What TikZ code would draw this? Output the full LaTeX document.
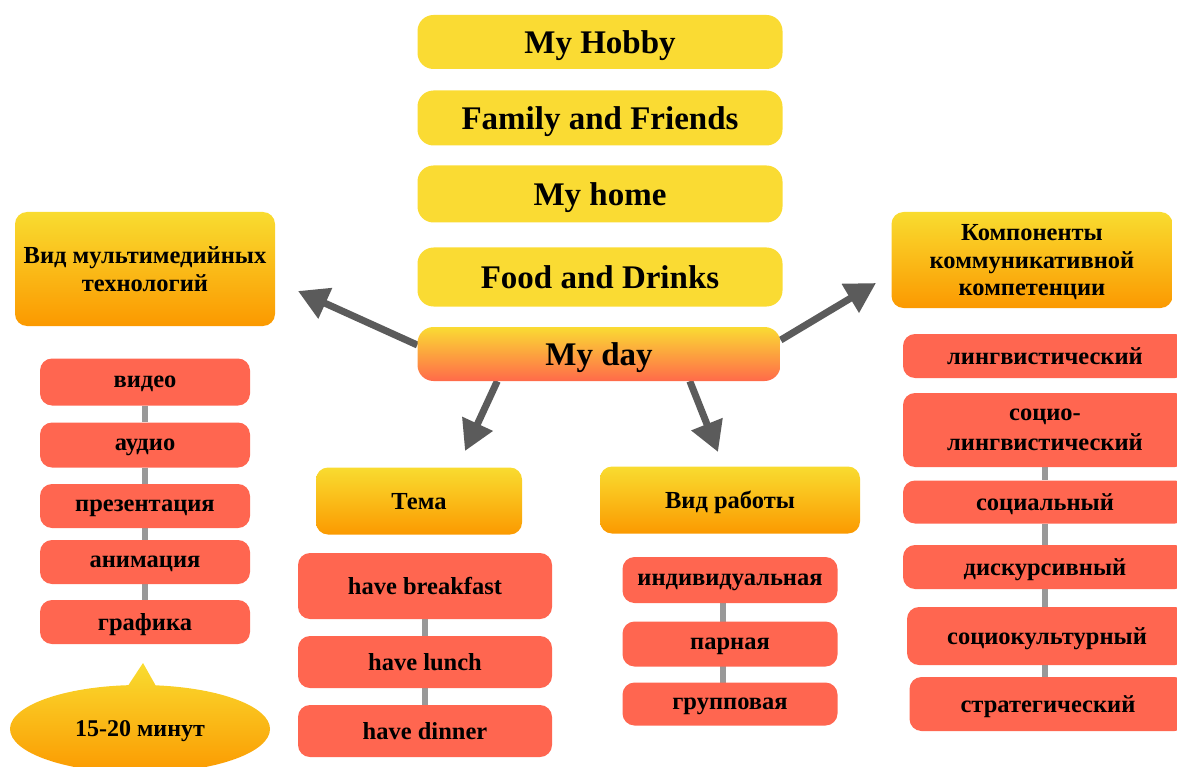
\documentclass[tikz,border=0pt]{standalone}
\usepackage{fontspec}
\setmainfont{Liberation Serif}
\usetikzlibrary{arrows.meta,calc,shapes.callouts}
\pgfdeclarelayer{bg}
\pgfsetlayers{bg,main}
\definecolor{topicyellow}{HTML}{FADB33}
\definecolor{headtop}{HTML}{F9DC30}
\definecolor{headbot}{HTML}{FB9900}
\definecolor{itemred}{HTML}{FF6650}
\definecolor{daybot}{HTML}{FF6A4A}
\definecolor{arrowgrey}{HTML}{5B5B5B}
\definecolor{linkgrey}{HTML}{999999}
\tikzset{
  topic/.style={rounded corners=16pt, fill=topicyellow, minimum width=365pt,
    inner sep=0pt, text depth=0pt, font=\fontsize{33}{38}\selectfont\bfseries},
  headbox/.style={rounded corners=12pt, top color=headtop, bottom color=headbot,
    inner sep=0pt, text depth=0pt, align=center, font=\fontsize{24.5}{27.5}\selectfont\bfseries},
  itembox/.style={rounded corners=12pt, fill=itemred, inner sep=0pt, text depth=0pt,
    align=center, font=\fontsize{24.5}{30}\selectfont\bfseries},
  link/.style={line width=6pt, draw=linkgrey},
  bigarrow/.style={line width=7pt, draw=arrowgrey, fill=arrowgrey,
    -{Triangle[length=30pt,width=32pt]}}
}
\begin{document}
\begin{tikzpicture}[x=1pt,y=-1pt]
\useasboundingbox (0,0) rectangle (1177,767);

% topic stack
\node[topic, minimum height=54pt] (hobby)  at (600,42)  {My Hobby};
\node[topic, minimum height=55pt] (family) at (600,118) {Family and Friends};
\node[topic, minimum height=57pt] (home)   at (600,194) {My home};
\node[topic, minimum height=59pt] (food)   at (600,277) {Food and Drinks};
\node[topic, minimum height=54pt, minimum width=363pt, fill=none,
      top color=topicyellow, bottom color=daybot] (myday) at (599,354) {My day};

% branch headings
\node[headbox, minimum width=260pt, minimum height=114pt] (vid) at (145,269)
  {Вид мультимедийных\\технологий};
\node[headbox, minimum width=281pt, minimum height=96pt] (komp) at (1032,260)
  {Компоненты\\коммуникативной\\компетенции};
\node[headbox, minimum width=206pt, minimum height=67pt] (tema) at (419,501) {Тема};
\node[headbox, minimum width=260pt, minimum height=67pt] (rabota) at (730,500) {Вид работы};

% multimedia kinds
\begin{scope}[every node/.style={itembox, minimum width=210pt}]
\node[minimum height=47pt] (video) at (145,382) {видео};
\node[minimum height=45pt] (audio) at (145,445) {аудио};
\node[minimum height=44pt] (prez)  at (145,506) {презентация};
\node[minimum height=44pt] (anim)  at (145,562) {анимация};
\node[minimum height=44pt] (graf)  at (145,622) {графика};
\end{scope}

% topic items
\begin{scope}[every node/.style={itembox, minimum width=254pt}]
\node[minimum height=66pt] (bfast)  at (425,586) {have breakfast};
\node[minimum height=52pt] (lunch)  at (425,662) {have lunch};
\node[minimum height=52pt] (dinner) at (425,731) {have dinner};
\end{scope}

% work forms
\begin{scope}[every node/.style={itembox, minimum width=215pt}]
\node[minimum height=46pt] (ind) at (730,580) {индивидуальная};
\node[minimum height=45pt] (par) at (730,644) {парная};
\node[minimum height=43pt] (grp) at (730,704) {групповая};
\end{scope}

% competence components
\begin{scope}[every node/.style={itembox, minimum width=284pt}]
\node[minimum height=44pt] (ling) at (1045,356) {лингвистический};
\node[minimum height=74pt] (socling) at (1045,430) {социо-\\лингвистический};
\node[minimum height=43pt] (soc)  at (1045,502) {социальный};
\node[minimum height=44pt] (disk) at (1045,567) {дискурсивный};
\node[minimum height=58pt, minimum width=280pt] (cult) at (1047,636) {социокультурный};
\node[minimum height=54pt, minimum width=277pt] (strat) at (1048,704) {стратегический};
\end{scope}

% time callout
\node[ellipse callout, minimum width=260pt, minimum height=88pt, inner sep=0pt,
      top color=headtop, bottom color=headbot, callout pointer arc=12,
      callout absolute pointer={(143,663)}, text depth=0pt,
      font=\fontsize{24}{28}\selectfont\bfseries] (time) at (140,729) {15-20 минут};

% arrow ends
\coordinate (tipL) at (298,291);
\coordinate (tipR) at (876,283);
\coordinate (tipT) at (465,451);
\coordinate (tipW) at (718,452);

\begin{pgfonlayer}{bg}
  \draw[link] (video) -- (audio) -- (prez) -- (anim) -- (graf);
  \draw[link] (bfast) -- (lunch) -- (dinner);
  \draw[link] ([xshift=-7pt]ind.center) -- ([xshift=-7pt]grp.center);
  \draw[link] (socling) -- (soc) -- (disk) -- (cult.center -| disk) -- (strat.center -| disk);
  \draw[bigarrow] ([yshift=9pt]myday.west) -- (tipL);
  \draw[bigarrow] ([yshift=14pt]myday.east) -- (tipR);
  \draw[bigarrow] ($(myday.south west)!0.22!(myday.south east)$) -- (tipT);
  \draw[bigarrow] ($(myday.south west)!0.75!(myday.south east)$) -- (tipW);
\end{pgfonlayer}
\end{tikzpicture}
\end{document}
